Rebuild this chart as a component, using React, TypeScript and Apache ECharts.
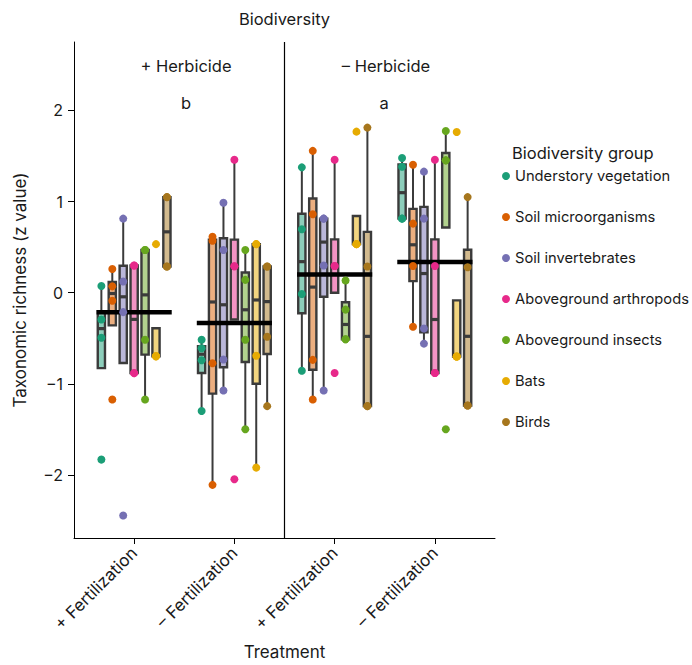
import React, { useEffect, useRef } from "react";
import * as echarts from "echarts";

// ---- categories / labels ----
const treatments = ["+ Fertilization", "– Fertilization", "+ Fertilization", "– Fertilization"];
const herbicideLabels = ["+ Herbicide", "– Herbicide"];
const significanceLetters = ["b", "a"];
const groupNames = [
  "Understory vegetation",
  "Soil microorganisms",
  "Soil invertebrates",
  "Aboveground arthropods",
  "Aboveground insects",
  "Bats",
  "Birds",
];
const groupColors = ["#1b9e77", "#d95f02", "#7570b3", "#e7298a", "#66a61e", "#e6ab02", "#a6761d"];
const yTicks = [-2, -1, 0, 1, 2];

// ---- z values per biodiversity group, one list per treatment (4 treatments) ----
const understory = [
  [0.073, -0.294, -0.493, -1.83],
  [-0.515, -0.609, -0.74, -1.298],
  [1.375, 0.696, -0.014, -0.855],
  [1.477, 1.382, 0.813, 0.813],
];
const soilMicro = [
  [0.261, 0.07, -0.087, -1.171],
  [0.614, 0.57, -0.773, -2.107],
  [1.556, 0.86, -0.736, -1.171],
  [1.404, 0.758, 0.294, -0.373],
];
const soilInvert = [
  [0.813, 0.124, -0.213, -2.444],
  [0.987, 0.468, -0.732, -1.073],
  [0.813, 0.813, 0.298, -1.073],
  [1.328, 0.813, -0.392, -0.558],
];
const arthropods = [
  [0.298, 0.298, -0.882, -0.882],
  [1.458, 0.29, 0.29, -2.046],
  [1.458, 0.294, 0.294, -0.881],
  [1.458, 0.294, -0.881, -0.881],
];
const insects = [
  [0.468, 0.468, -0.515, -1.171],
  [0.468, 0.141, -0.515, -1.497],
  [0.135, -0.185, -0.511, -0.511],
  [1.774, 1.452, 1.452, -1.497],
];
const bats = [
  [0.533, -0.696, -0.696, -0.696],
  [0.533, 0.533, -0.692, -1.918],
  [1.767, 0.533, 0.533, 0.533],
  [1.763, -0.7, -0.7, -0.7],
];
const birds = [
  [1.049, 1.049, 0.287, 0.287],
  [0.287, 0.287, -0.482, -1.244],
  [1.811, 0.287, -1.244, -1.244],
  [1.049, 0.28, -1.236, -1.236],
];
const valuesByGroup = [understory, soilMicro, soilInvert, arthropods, insects, bats, birds];

// ---- layout constants ----
const Y_MIN = -2.69;
const Y_MAX = 2.75;
const X_MIN = -0.6;
const X_MAX = 3.6;
const BOX_STEP = 0.109;
const BOX_W = 0.072;
const MEAN_HALF = 0.375;
const FONT = "Inter, 'Liberation Sans', sans-serif";
const TEXT = "#1a1a1a";

function quantile(s: number[], p: number) {
  const h = (s.length - 1) * p;
  const lo = Math.floor(h);
  const hi = Math.min(lo + 1, s.length - 1);
  return s[lo] + (h - lo) * (s[hi] - s[lo]);
}
function boxStats(vals: number[]) {
  const s = [...vals].sort((a, b) => a - b);
  const q1 = quantile(s, 0.25);
  const med = quantile(s, 0.5);
  const q3 = quantile(s, 0.75);
  const iqr = q3 - q1;
  let wHi = Math.max(...s.filter((v) => v <= q3 + 1.5 * iqr));
  if (!(wHi > q3)) wHi = q3;
  let wLo = Math.min(...s.filter((v) => v >= q1 - 1.5 * iqr));
  if (!(wLo < q1)) wLo = q1;
  return [wLo, q1, med, q3, wHi];
}
function hexA(hex: string, a: number) {
  const n = parseInt(hex.slice(1), 16);
  return `rgba(${(n >> 16) & 255},${(n >> 8) & 255},${n & 255},${a})`;
}
const fmtMinus = (v: number) => (v < 0 ? "\u2212" + Math.abs(v) : String(v));

export default function App() {
  const ref = useRef<HTMLDivElement>(null);
  useEffect(() => {
    if (!ref.current) return;
    const chart = echarts.init(ref.current, null, { renderer: "svg" });

    const boxData: number[][] = [];
    valuesByGroup.forEach((grp, k) => {
      grp.forEach((vals, t) => {
        boxData.push([t + (k - 3) * BOX_STEP, ...boxStats(vals), k]);
      });
    });
    const meanData = treatments.map((_, t) => {
      const all: number[] = [];
      valuesByGroup.forEach((grp) => all.push(...grp[t]));
      return [t, all.reduce((a, b) => a + b, 0) / all.length];
    });

    const scatterSeries = groupNames.map((name, k) => ({
      type: "scatter",
      name,
      z: 5,
      symbolSize: 8,
      itemStyle: { color: groupColors[k], opacity: 1 },
      data: valuesByGroup[k].flatMap((vals, t) => vals.map((v) => [t + (k - 3) * BOX_STEP, v])),
    }));

    const option: any = {
      animation: false,
      textStyle: { fontFamily: FONT },
      grid: { left: 74, right: 197, top: 42, bottom: 123 },
      xAxis: {
        type: "value",
        min: X_MIN,
        max: X_MAX,
        name: "Treatment",
        nameLocation: "middle",
        nameGap: 105,
        nameTextStyle: { fontFamily: FONT, fontSize: 17, color: TEXT },
        axisLine: { show: true, onZero: false, lineStyle: { color: "#000", width: 1 } },
        axisTick: { show: true, length: 6, customValues: [0, 1, 2, 3], lineStyle: { color: "#000" } },
        axisLabel: {
          customValues: [0, 1, 2, 3],
          rotate: 45,
          margin: 12,
          fontFamily: FONT,
          fontSize: 17,
          color: TEXT,
          formatter: (v: number) => treatments[Math.round(v)],
        },
        splitLine: { show: false },
      },
      yAxis: {
        type: "value",
        min: Y_MIN,
        max: Y_MAX,
        name: "Taxonomic richness (z value)",
        nameLocation: "middle",
        nameGap: 46,
        nameTextStyle: { fontFamily: FONT, fontSize: 17, color: TEXT },
        axisLine: { show: true, onZero: false, lineStyle: { color: "#000", width: 1 } },
        axisTick: { show: true, length: 6, customValues: yTicks, lineStyle: { color: "#000" } },
        axisLabel: {
          customValues: yTicks,
          margin: 11,
          fontFamily: FONT,
          fontSize: 16,
          color: TEXT,
          formatter: fmtMinus,
        },
        splitLine: { show: false },
      },
      legend: {
        orient: "vertical",
        left: 502,
        top: 168,
        padding: 0,
        itemWidth: 8,
        itemHeight: 8,
        itemGap: 25,
        icon: "circle",
        selectedMode: false,
        data: groupNames,
        textStyle: { fontFamily: FONT, fontSize: 14.7, color: TEXT, lineHeight: 16 },
      },
      graphic: [
        { type: "text", x: 284.5, y: 18.5, style: { text: "Biodiversity", fontFamily: FONT, fontSize: 16.5, fill: TEXT, textAlign: "center", textVerticalAlign: "middle" } },
        { type: "text", x: 186, y: 66, style: { text: herbicideLabels[0], fontFamily: FONT, fontSize: 16.5, fill: TEXT, textAlign: "center", textVerticalAlign: "middle" } },
        { type: "text", x: 386, y: 66, style: { text: herbicideLabels[1], fontFamily: FONT, fontSize: 16.5, fill: TEXT, textAlign: "center", textVerticalAlign: "middle" } },
        { type: "text", x: 186, y: 103, style: { text: significanceLetters[0], fontFamily: FONT, fontSize: 16.5, fill: TEXT, textAlign: "center", textVerticalAlign: "middle" } },
        { type: "text", x: 384, y: 103, style: { text: significanceLetters[1], fontFamily: FONT, fontSize: 16.5, fill: TEXT, textAlign: "center", textVerticalAlign: "middle" } },
        { type: "text", x: 512, y: 152.5, style: { text: "Biodiversity group", fontFamily: FONT, fontSize: 16.5, fill: TEXT, textAlign: "left", textVerticalAlign: "middle" } },
      ],
      series: [
        {
          type: "custom",
          name: "divider",
          z: 1,
          silent: true,
          data: [[1.5]],
          renderItem: (_p: any, api: any) => {
            const a = api.coord([api.value(0), Y_MAX]);
            const b = api.coord([api.value(0), Y_MIN]);
            return { type: "line", shape: { x1: a[0], y1: a[1], x2: b[0], y2: b[1] }, style: { stroke: "#000", lineWidth: 1.2 } };
          },
        },
        {
          type: "custom",
          name: "boxes",
          z: 2,
          silent: true,
          data: boxData,
          encode: { x: 0, y: [1, 2, 3, 4, 5] },
          renderItem: (_p: any, api: any) => {
            const x = api.value(0);
            const k = api.value(6);
            const pLo = api.coord([x, api.value(1)]);
            const pQ1 = api.coord([x, api.value(2)]);
            const pMed = api.coord([x, api.value(3)]);
            const pQ3 = api.coord([x, api.value(4)]);
            const pHi = api.coord([x, api.value(5)]);
            const half = api.size([BOX_W, 0])[0] / 2;
            const cx = pQ1[0];
            const edge = "#3b3b3b";
            return {
              type: "group",
              children: [
                { type: "line", shape: { x1: cx, y1: pQ1[1], x2: cx, y2: pLo[1] }, style: { stroke: edge, lineWidth: 2 } },
                { type: "line", shape: { x1: cx, y1: pQ3[1], x2: cx, y2: pHi[1] }, style: { stroke: edge, lineWidth: 2 } },
                {
                  type: "rect",
                  shape: { x: cx - half, y: pQ3[1], width: half * 2, height: Math.max(pQ1[1] - pQ3[1], 0.5) },
                  style: { fill: hexA(groupColors[k], 0.5), stroke: edge, lineWidth: 2.4 },
                },
                { type: "line", shape: { x1: cx - half, y1: pMed[1], x2: cx + half, y2: pMed[1] }, style: { stroke: edge, lineWidth: 3.2 } },
              ],
            };
          },
        },
        {
          type: "custom",
          name: "means",
          z: 3,
          silent: true,
          data: meanData,
          renderItem: (_p: any, api: any) => {
            const a = api.coord([api.value(0) - MEAN_HALF, api.value(1)]);
            const b = api.coord([api.value(0) + MEAN_HALF, api.value(1)]);
            return { type: "line", shape: { x1: a[0], y1: a[1], x2: b[0], y2: b[1] }, style: { stroke: "#000", lineWidth: 4.5 } };
          },
        },
        ...scatterSeries,
      ],
    };
    chart.setOption(option);
    return () => chart.dispose();
  }, []);
  return <div ref={ref} style={{ position: "fixed", left: 0, top: 0, width: 692, height: 665, background: "#fff" }} />;
}
